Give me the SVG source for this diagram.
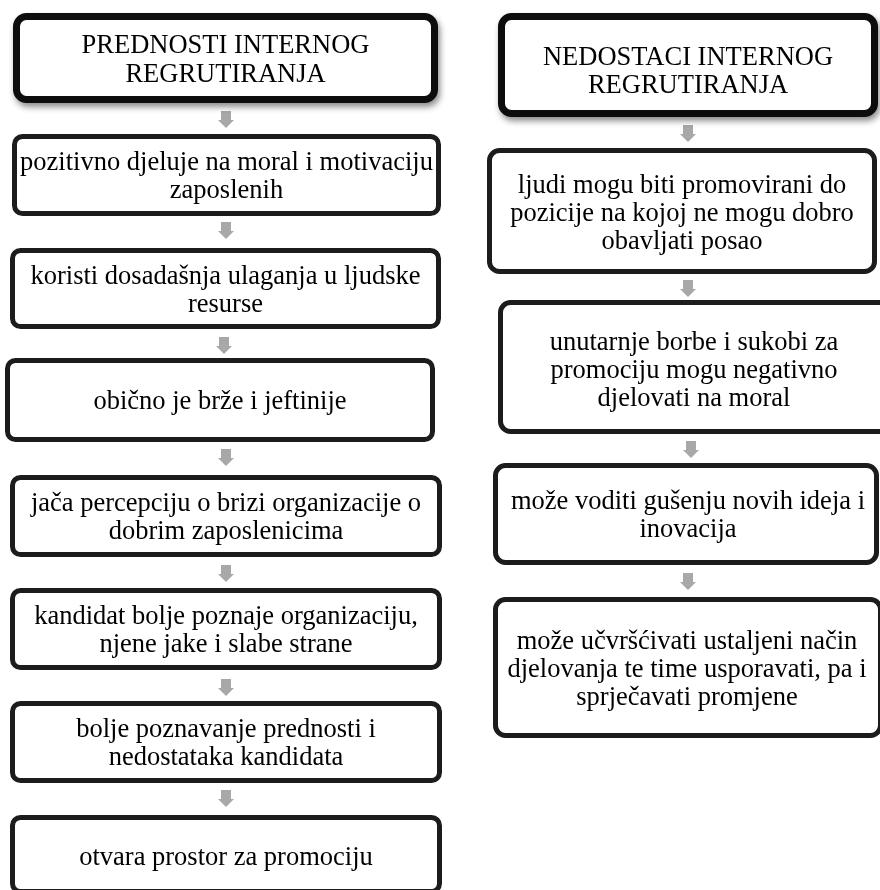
<svg xmlns="http://www.w3.org/2000/svg" width="880" height="890" viewBox="0 0 880 890">
<defs>
<filter id="shadow" x="-10%" y="-20%" width="125%" height="150%">
<feDropShadow dx="2" dy="4" stdDeviation="3" flood-color="#000" flood-opacity="0.45"/>
</filter>
<filter id="soft" x="-50%" y="-50%" width="200%" height="200%">
<feGaussianBlur stdDeviation="0.7"/>
</filter>
<path id="arr" d="M -5 0 H 5 V 9 H 8 L 0 17 L -8 9 H -5 Z"/>
<style>
.box { fill: #ffffff; stroke: #1c1c1c; stroke-width: 5; }
.head { fill: #ffffff; stroke: #111111; stroke-width: 7; filter: url(#shadow); }
.t { font-family: "Liberation Serif", "Times New Roman", serif; font-size: 26.5px; fill: #000000; text-anchor: middle; }
.arrow { fill: #a8a8a8; filter: url(#soft); }
</style>
</defs>
<rect width="880" height="890" fill="#ffffff"/>

<g id="connectors" class="arrow">
<use href="#arr" x="226" y="111"/>
<use href="#arr" x="226" y="222"/>
<use href="#arr" x="224" y="337"/>
<use href="#arr" x="226" y="449"/>
<use href="#arr" x="226" y="565"/>
<use href="#arr" x="226" y="679"/>
<use href="#arr" x="226" y="790"/>
<use href="#arr" x="688" y="125"/>
<use href="#arr" x="688" y="280"/>
<use href="#arr" x="691" y="441"/>
<use href="#arr" x="688" y="573"/>
</g>

<g id="left-header">
<rect class="head" x="16.5" y="16.5" width="418" height="83" rx="10"/>
<text class="t" x="225.5" y="53">PREDNOSTI INTERNOG</text>
<text class="t" x="225.5" y="82">REGRUTIRANJA</text>
</g>

<g id="l1">
<rect class="box" x="14.5" y="136.5" width="424" height="77" rx="8"/>
<text class="t" x="226.5" y="170">pozitivno djeluje na moral i motivaciju</text>
<text class="t" x="226.5" y="198">zaposlenih</text>
</g>

<g id="l2">
<rect class="box" x="12.5" y="250.5" width="426" height="76" rx="8"/>
<text class="t" x="225.5" y="283.5">koristi dosadašnja ulaganja u ljudske</text>
<text class="t" x="225.5" y="311.5">resurse</text>
</g>

<g id="l3">
<rect class="box" x="7.5" y="360.5" width="425" height="79" rx="8"/>
<text class="t" x="220" y="408.5">obično je brže i jeftinije</text>
</g>

<g id="l4">
<rect class="box" x="12.5" y="477.5" width="427" height="77" rx="8"/>
<text class="t" x="226" y="511">jača percepciju o brizi organizacije o</text>
<text class="t" x="226" y="539">dobrim zaposlenicima</text>
</g>

<g id="l5">
<rect class="box" x="12.5" y="590.5" width="427" height="77" rx="8"/>
<text class="t" x="226" y="624">kandidat bolje poznaje organizaciju,</text>
<text class="t" x="226" y="652">njene jake i slabe strane</text>
</g>

<g id="l6">
<rect class="box" x="12.5" y="703.5" width="427" height="77" rx="8"/>
<text class="t" x="226" y="737">bolje poznavanje prednosti i</text>
<text class="t" x="226" y="765">nedostataka kandidata</text>
</g>

<g id="l7">
<rect class="box" x="12.5" y="817.5" width="427" height="74" rx="8"/>
<text class="t" x="226" y="865">otvara prostor za promociju</text>
</g>

<g id="right-header">
<rect class="head" x="501.5" y="16.5" width="373" height="97" rx="10"/>
<text class="t" x="688" y="65">NEDOSTACI INTERNOG</text>
<text class="t" x="688" y="93">REGRUTIRANJA</text>
</g>

<g id="r1">
<rect class="box" x="489.5" y="150.5" width="385" height="121" rx="10"/>
<text class="t" x="682" y="193">ljudi mogu biti promovirani do</text>
<text class="t" x="682" y="221">pozicije na kojoj ne mogu dobro</text>
<text class="t" x="682" y="249">obavljati posao</text>
</g>

<g id="r2">
<rect class="box" x="500.5" y="302.5" width="389" height="129" rx="10"/>
<text class="t" x="694" y="350">unutarnje borbe i sukobi za</text>
<text class="t" x="694" y="378">promociju mogu negativno</text>
<text class="t" x="694" y="406">djelovati na moral</text>
</g>

<g id="r3">
<rect class="box" x="495.5" y="465.5" width="381" height="97" rx="10"/>
<text class="t" x="688" y="509">može voditi gušenju novih ideja i</text>
<text class="t" x="688" y="537">inovacija</text>
</g>

<g id="r4">
<rect class="box" x="495.5" y="599.5" width="385" height="136" rx="10"/>
<text class="t" x="687" y="649">može učvršćivati ustaljeni način</text>
<text class="t" x="687" y="677">djelovanja te time usporavati, pa i</text>
<text class="t" x="687" y="705">sprječavati promjene</text>
</g>
</svg>
